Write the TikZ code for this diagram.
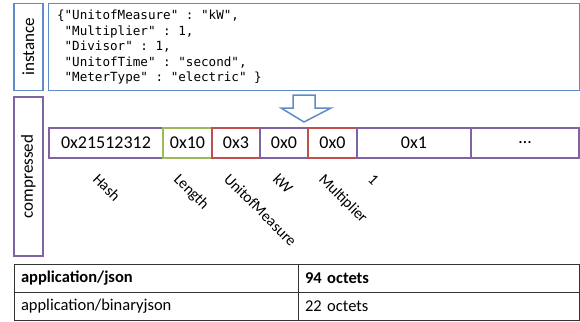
\documentclass[tikz,border=0pt]{standalone}
\usepackage{fontspec}
\setmainfont{Carlito}
\setmonofont{DejaVu Sans Mono}
\usetikzlibrary{positioning}
\definecolor{boxblue}{RGB}{95,140,200}
\definecolor{boxpurple}{RGB}{128,100,162}
\definecolor{boxgreen}{RGB}{155,187,89}
\definecolor{boxred}{RGB}{192,80,77}
\tikzset{every node/.style={inner sep=0pt,outer sep=0pt},every path/.style={line join=miter}}
\tikzset{
  frame/.style={draw=#1,line width=1.5pt},
  cell/.style={frame=#1,minimum height=30pt,anchor=west,font=\fontsize{18}{21}\selectfont},
  field/.style={rotate=-45,anchor=base west,font=\fontsize{15.5}{18}\selectfont},
  side/.style={frame=#1,rotate=90,minimum height=28.7pt,font=\fontsize{17}{20}\selectfont},
  tab/.style={draw=black!80,line width=0.9pt,minimum height=28pt,inner xsep=7pt,anchor=north west,align=left,font=\fontsize{16.5}{19}\selectfont}
}

\begin{document}
\begin{tikzpicture}[x=1pt,y=-1pt]
  \useasboundingbox (0,0) rectangle (580,321);
  % instance
  \node[side=boxblue,minimum width=87.4pt] (inst) at (28.4,47) {instance};
  \node[frame=boxblue,minimum width=531pt,minimum height=87.4pt,anchor=north west] (instbox) at (48.3,3.3) {};
  \node[anchor=north west,align=left,font=\ttfamily\fontsize{12.6}{15.5}\selectfont] (json) at (57,10)
    {\{"UnitofMeasure" : "kW",\\~"Multiplier" : 1,\\~"Divisor" : 1,\\~"UnitofTime" : "second",\\~"MeterType" : "electric" \}};
  \draw[frame=boxblue,fill=white] (293,95) -- (315,95) -- (315,108) -- (331,108) -- (304,122) -- (281,108) -- (293,108) -- cycle;
  % compressed
  \node[side=boxpurple,minimum width=158.7pt] (comp) at (28.4,176.4) {compressed};
  \node[cell=boxpurple,minimum width=114pt] (hash) at (49,143) {0x21512312};
  \node[cell=boxgreen,minimum width=49pt] (len) at (hash.east) {0x10};
  \node[cell=boxred,minimum width=48pt] (unit) at (len.east) {0x3};
  \node[cell=boxpurple,minimum width=48pt] (kw) at (unit.east) {0x0};
  \node[cell=boxred,minimum width=49pt] (mult) at (kw.east) {0x0};
  \node[cell=boxpurple,minimum width=114pt] (one) at (mult.east) {0x1};
  \node[cell=boxpurple,minimum width=108pt] (more) at (one.east) {\dots};
  \foreach \x/\name in {92/Hash,173/Length,223/UnitofMeasure,272/kW,318/Multiplier,367/1}
    \node[field] (f\x) at (\x,180) {\name};
  % sizes
  \node[tab,text width=270pt] (fmt1) at (14,264) {\bfseries application/json};
  \node[tab,text width=267pt] (size1) at (fmt1.north east) {\bfseries 94 octets};
  \node[tab,text width=270pt] (fmt2) at (fmt1.south west) {application/binaryjson};
  \node[tab,text width=267pt] (size2) at (fmt2.north east) {22 octets};
\end{tikzpicture}
\end{document}
